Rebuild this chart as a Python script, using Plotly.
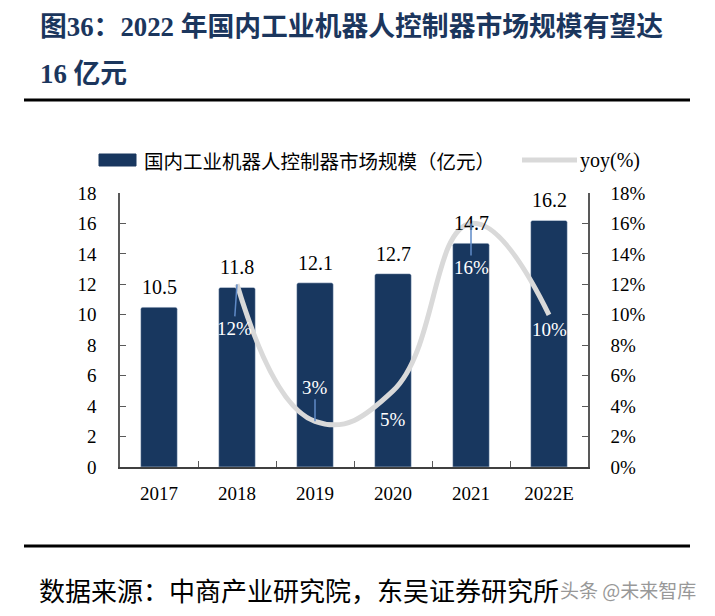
import plotly.graph_objects as go

categories = ["2017", "2018", "2019", "2020", "2021", "2022E"]
market_size = [10.5, 11.8, 12.1, 12.7, 14.7, 16.2]
yoy_cats = ["2018", "2019", "2020", "2021", "2022E"]
yoy = [0.12, 0.03, 0.05, 0.16, 0.10]
yoy_text = ["12%", "3%", "5%", "16%", "10%"]
bar_legend = "国内工业机器人控制器市场规模（亿元）"
line_legend = "yoy(%)"
# label offsets (px) for yoy labels: (ax, ay, show_leader)
yoy_label_pos = [(-3, 44, True), (0, -34, True), (0, 29, False), (0, 44, True), (0, 15, False)]

W, H = 715, 616
OFF = 8  # page body margin
# plot area in screen pixels
Ls, Rs, Ts, Bs = 120, 588, 193, 467
FONT = "Liberation Serif, Times New Roman, Noto Sans CJK SC, serif"
CJK = "Noto Sans CJK SC, Liberation Serif, sans-serif"
NAVY = "#18375F"
TITLE_C = "#1B365D"
GREY_LINE = "#D9D9D9"


def px(xs):
    return (xs - Ls) / (Rs - Ls)


def py(ys):
    return (Bs - ys) / (Bs - Ts)


fig = go.Figure()
fig.add_trace(go.Bar(
    x=categories, y=market_size, name=bar_legend,
    marker=dict(color=NAVY, cornerradius=2), width=0.47, yaxis="y",
))
fig.add_trace(go.Scatter(
    x=yoy_cats, y=yoy, name=line_legend, mode="lines", yaxis="y2",
    line=dict(color=GREY_LINE, width=5, shape="spline", smoothing=1.3),
))

annotations = []
for i, v in enumerate(market_size):
    annotations.append(dict(x=i, y=v, xref="x", yref="y", text=f"{v}", showarrow=False,
                            yanchor="bottom", yshift=7, font=dict(family=FONT, size=20, color="black")))
for c, v, t, (ax, ay, lead) in zip(yoy_cats, yoy, yoy_text, yoy_label_pos):
    xi = categories.index(c)
    if lead:
        annotations.append(dict(x=xi, y=v, xref="x", yref="y2", text=t, showarrow=True,
                                arrowhead=0, arrowwidth=1.5, arrowcolor="#5F8AC7",
                                ax=ax, ay=ay, standoff=0,
                                font=dict(family=FONT, size=19, color="white")))
    else:
        annotations.append(dict(x=xi, y=v, xref="x", yref="y2", text=t, showarrow=False,
                                xshift=ax, yshift=-ay,
                                font=dict(family=FONT, size=19, color="white")))

annotations += [
    dict(x=px(38), y=py(27), xref="paper", yref="paper", xanchor="left", yanchor="middle",
         text="<b>图36：2022 年国内工业机器人控制器市场规模有望达</b>", showarrow=False,
         font=dict(family=FONT, size=26.8, color=TITLE_C)),
    dict(x=px(38), y=py(74), xref="paper", yref="paper", xanchor="left", yanchor="middle",
         text="<b>16 亿元</b>", showarrow=False,
         font=dict(family=FONT, size=26.8, color=TITLE_C)),
    dict(x=px(37), y=py(589), xref="paper", yref="paper", xanchor="left", yanchor="middle",
         text="数据来源：中商产业研究院，东吴证券研究所", showarrow=False,
         font=dict(family=CJK, size=26, color="black")),
    dict(x=px(558), y=py(589), xref="paper", yref="paper", xanchor="left", yanchor="middle",
         text="头条 @未来智库", showarrow=False, opacity=0.6,
         font=dict(family=CJK, size=19, color="#555555")),
    # legend texts
    dict(x=px(142), y=py(160), xref="paper", yref="paper", xanchor="left", yanchor="middle",
         text=bar_legend, showarrow=False, font=dict(family=CJK, size=19.5, color="black")),
    dict(x=px(578), y=py(160), xref="paper", yref="paper", xanchor="left", yanchor="middle",
         text=line_legend, showarrow=False, font=dict(family=FONT, size=20, color="black")),
]

shapes = [
    dict(type="line", xref="paper", yref="paper", x0=px(24), x1=px(690), y0=py(100), y1=py(100),
         line=dict(color="black", width=3)),
    dict(type="line", xref="paper", yref="paper", x0=px(24), x1=px(690), y0=py(546), y1=py(546),
         line=dict(color="black", width=3)),
    # legend keys
    dict(type="rect", xref="paper", yref="paper", x0=px(99), x1=px(136), y0=py(166), y1=py(154),
         fillcolor=NAVY, line=dict(color=NAVY, width=1)),
    dict(type="line", xref="paper", yref="paper", x0=px(522), x1=px(577), y0=py(160), y1=py(160),
         line=dict(color=GREY_LINE, width=5)),
]

fig.update_layout(
    width=W, height=H,
    margin=dict(l=Ls - OFF, r=W - (Rs - OFF), t=Ts - OFF, b=H - (Bs - OFF), pad=0, autoexpand=False),
    paper_bgcolor="white", plot_bgcolor="white",
    font=dict(family=FONT, size=19, color="black"),
    showlegend=False,
    xaxis=dict(type="category", range=[-0.5, 5.5], showline=True, linecolor="#404040", linewidth=1.5,
               ticks="inside", tickson="boundaries", ticklen=6, tickcolor="#595959",
               showgrid=False, ticklabelstandoff=8, automargin=False,
               tickfont=dict(family=FONT, size=19, color="black")),
    yaxis=dict(range=[0, 18], dtick=2, showline=True, linecolor="#595959", linewidth=1.5,
               ticks="inside", ticklen=6, tickcolor="#595959", showgrid=False, zeroline=False,
               ticklabelstandoff=18, automargin=False, tickfont=dict(family=FONT, size=19, color="black")),
    yaxis2=dict(range=[0, 0.18], dtick=0.02, tickformat=".0%", overlaying="y", side="right",
                showline=True, linecolor="#595959", linewidth=1.5, ticks="inside", ticklen=6,
                tickcolor="#595959", showgrid=False, zeroline=False, ticklabelstandoff=17,
                automargin=False, tickfont=dict(family=FONT, size=19, color="black")),
    annotations=annotations, shapes=shapes,
)

fig.write_html("out.html")
